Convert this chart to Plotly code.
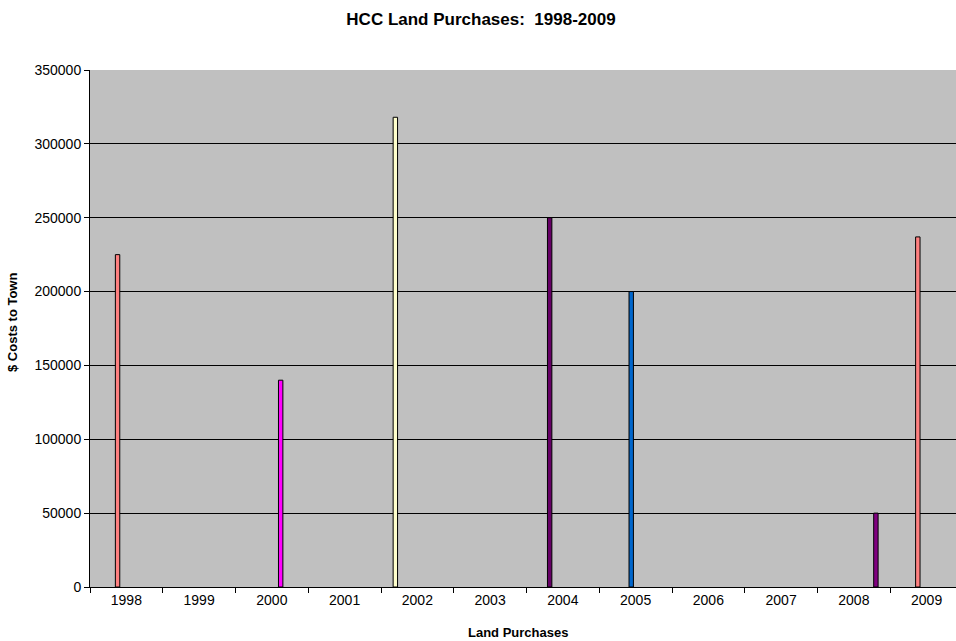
import plotly.graph_objects as go

years = ["1998", "1999", "2000", "2001", "2002", "2003", "2004", "2005", "2006", "2007", "2008", "2009"]

# each land purchase: year, cost to town, and the data series (slot in the group) it belongs to
purchase_year = ["1998", "2000", "2002", "2004", "2005", "2008", "2009"]
purchase_cost = [225000, 140000, 318000, 250000, 200000, 50000, 237000]
purchase_series = [3, 7, 0, 2, 4, 10, 3]

series_names = ["Series %d" % (i + 1) for i in range(11)]
series_colors = ["#FFFFCC", "#CCFFFF", "#660066", "#FF8080", "#0066CC", "#CCCCFF",
                 "#000080", "#FF00FF", "#FFFF00", "#00FFFF", "#800080"]

fig = go.Figure()
for s, name in enumerate(series_names):
    vals = [None] * len(years)
    for y, c, ser in zip(purchase_year, purchase_cost, purchase_series):
        if ser == s:
            vals[years.index(y)] = c
    fig.add_trace(go.Bar(
        x=years, y=vals, name=name,
        marker=dict(color=series_colors[s], line=dict(color="#000000", width=1)),
    ))

font = "Liberation Sans, Arial, sans-serif"
W, H = 956, 641
L, T, B = 90, 70, 54
cat_px = 72.75
right_cut = (L + 12 * cat_px - W) / cat_px

fig.update_layout(
    width=W, height=H,
    margin=dict(l=L, r=0, t=T, b=B, pad=0),
    paper_bgcolor="#FFFFFF",
    plot_bgcolor="#C0C0C0",
    barmode="group", bargap=0.334, bargroupgap=0,
    showlegend=False,
    font=dict(family=font, size=14, color="#000000"),
    title=dict(text="<b>HCC Land Purchases:\u00a0 1998-2009</b>",
               x=481 / W, xanchor="center", y=1 - 19 / H, yanchor="middle",
               font=dict(size=17, family=font, color="#000000")),
    xaxis=dict(
        type="category", range=[-0.5, 11.5 - right_cut],
        showline=True, linecolor="#000000", linewidth=1,
        ticks="outside", ticklen=5, tickcolor="#000000", tickson="boundaries",
        showgrid=False, zeroline=False,
        tickfont=dict(size=14, family=font),
    ),
    yaxis=dict(
        range=[0, 350000], dtick=50000, tick0=0,
        showline=True, linecolor="#000000", linewidth=1,
        ticks="outside", ticklen=5, tickcolor="#000000",
        showgrid=True, gridcolor="#000000", gridwidth=1,
        zeroline=False, tickformat="d",
        tickfont=dict(size=14, family=font),
    ),
    annotations=[
        dict(text="<b>$ Costs to Town</b>", xref="paper", yref="paper",
             x=(12 - L) / (W - L), y=(587 - 323) / 517, xanchor="center", yanchor="middle",
             textangle=-90, showarrow=False, font=dict(size=13, family=font)),
        dict(text="<b>Land Purchases</b>", xref="paper", yref="paper",
             x=(518 - L) / (W - L), y=(587 - 632) / 517, xanchor="center", yanchor="middle",
             showarrow=False, font=dict(size=13, family=font)),
    ],
)

fig.write_html("out.html")
